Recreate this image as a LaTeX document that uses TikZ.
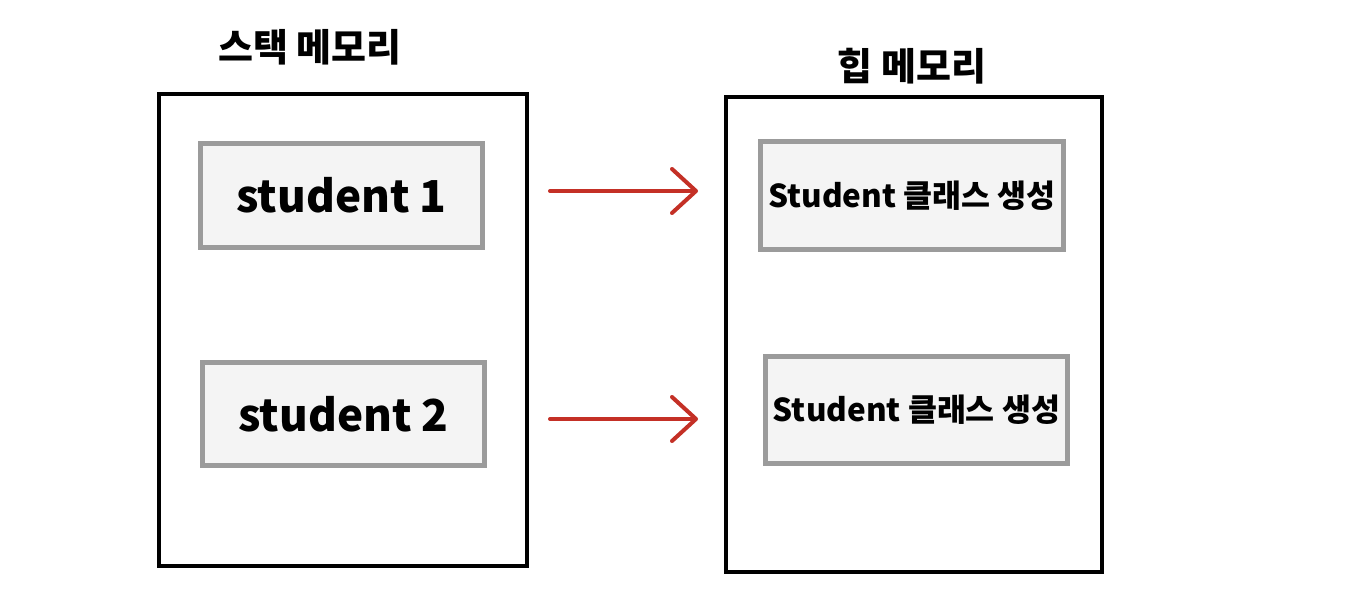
\documentclass[tikz,border=0pt]{standalone}
\usepackage{fontspec}
\setmainfont{Noto Sans CJK KR}
\usetikzlibrary{arrows.meta}
\definecolor{boxgray}{RGB}{155,155,155}
\definecolor{boxfill}{RGB}{244,244,244}
\definecolor{arrred}{RGB}{196,48,38}
\tikzset{
  memframe/.style={draw=black, line width=4pt, fill=white, rectangle, inner sep=0pt},
  objbox/.style={draw=boxgray, line width=5pt, fill=boxfill, rectangle, inner sep=0pt, font=\fontsize{44}{50}\selectfont\bfseries},
  heapbox/.style={objbox, font=\fontsize{31.5}{36}\selectfont\bfseries},
  memtitle/.style={font=\fontsize{38}{44}\selectfont\bfseries, inner sep=0pt},
  refarrow/.style={draw=arrred, line width=4pt, line cap=round, -{Straight Barb[length=24pt,width=44pt,line width=4pt,round]}}
}
\begin{document}
\begin{tikzpicture}[x=1pt,y=-1pt]
\useasboundingbox (0,0) rectangle (1352,610);
\fill[white] (0,0) rectangle (1352,610);
% frames
\node[memframe, minimum width=368pt, minimum height=472pt] (stack) at (343,330) {};
\node[memframe, minimum width=376pt, minimum height=475pt] (heap) at (914,334.5) {};
% titles
\node[memtitle] (stacktitle) at (310,47) {스택 메모리};
\node[memtitle] (heaptitle) at (912,66) {힙 메모리};
% objects
\node[objbox, minimum width=282pt, minimum height=104pt] (s1) at (341.5,195.5) {student 1};
\node[objbox, minimum width=282pt, minimum height=103pt] (s2) at (343.5,414) {student 2};
\node[heapbox, minimum width=303pt, minimum height=108pt] (h1) at (912,195.5) {Student 클래스 생성};
\node[heapbox, minimum width=302pt, minimum height=107pt] (h2) at (916.5,410) {Student 클래스 생성};
% arrows
\coordinate (a1s) at ([xshift=21pt]stack.east |- 0,191);
\coordinate (a1e) at ([xshift=-26pt]heap.west |- 0,191);
\coordinate (a2s) at ([xshift=21pt]stack.east |- 0,419);
\coordinate (a2e) at ([xshift=-26pt]heap.west |- 0,419);
\draw[refarrow] (a1s) -- (a1e);
\draw[refarrow] (a2s) -- (a2e);
\end{tikzpicture}
\end{document}
